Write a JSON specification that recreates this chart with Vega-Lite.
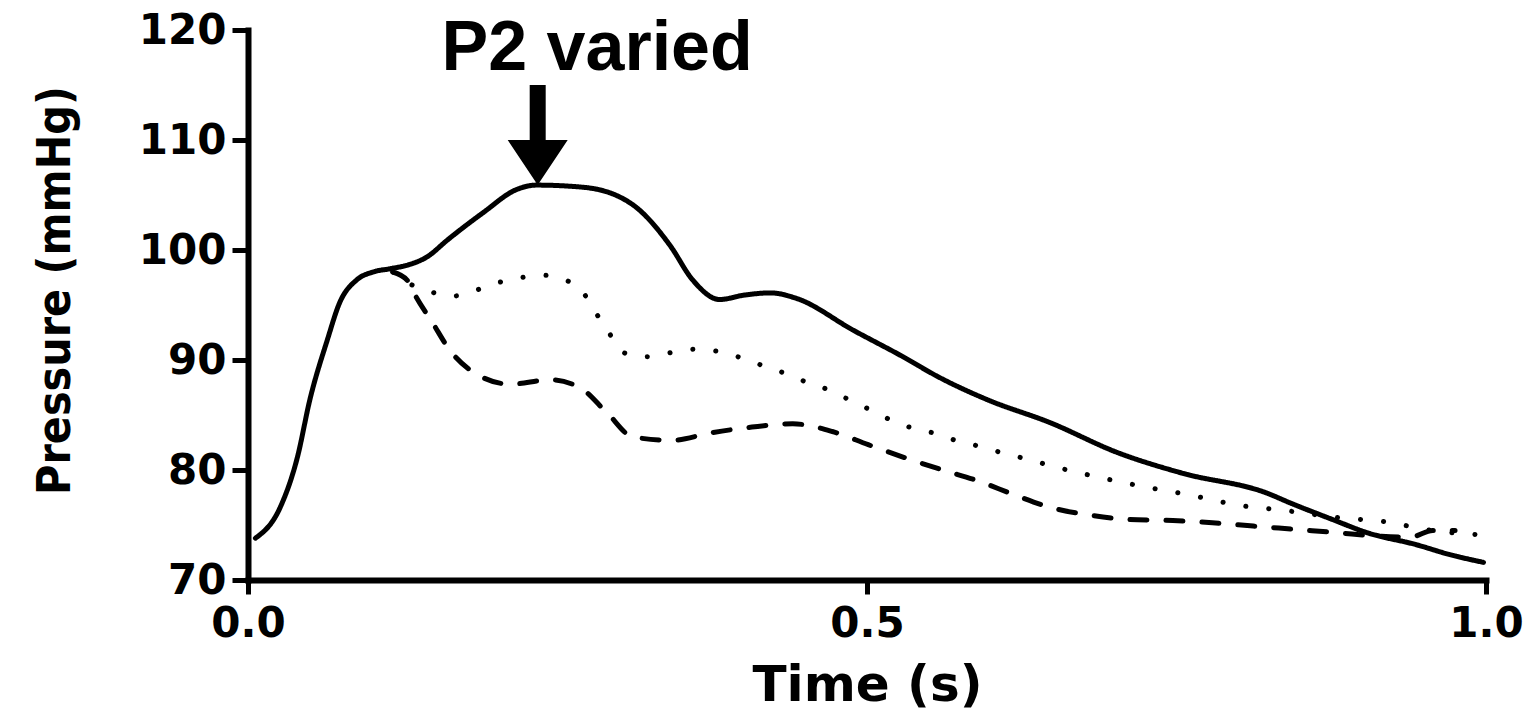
{
  "$schema": "https://vega.github.io/schema/vega-lite/v6.json",
  "autosize": "none",
  "width": 1238,
  "height": 550,
  "padding": {"left": 248, "top": 30, "right": 50, "bottom": 134},
  "background": "white",
  "config": {"view": {"stroke": null}, "axis": {"grid": false}},
  "datasets": {
    "curves": [
      {"series": "solid", "t": 0.006, "p": 73.8},
      {"series": "solid", "t": 0.026, "p": 76.6},
      {"series": "solid", "t": 0.040, "p": 81.2},
      {"series": "solid", "t": 0.050, "p": 86.4},
      {"series": "solid", "t": 0.064, "p": 91.8},
      {"series": "solid", "t": 0.074, "p": 95.2},
      {"series": "solid", "t": 0.088, "p": 97.3},
      {"series": "solid", "t": 0.101, "p": 98.0},
      {"series": "solid", "t": 0.115, "p": 98.3},
      {"series": "solid", "t": 0.128, "p": 98.6},
      {"series": "solid", "t": 0.145, "p": 99.4},
      {"series": "solid", "t": 0.161, "p": 100.9},
      {"series": "solid", "t": 0.190, "p": 103.4},
      {"series": "solid", "t": 0.217, "p": 105.5},
      {"series": "solid", "t": 0.233, "p": 105.9},
      {"series": "solid", "t": 0.271, "p": 105.7},
      {"series": "solid", "t": 0.311, "p": 104.1},
      {"series": "solid", "t": 0.341, "p": 100.4},
      {"series": "solid", "t": 0.359, "p": 97.3},
      {"series": "solid", "t": 0.381, "p": 95.5},
      {"series": "solid", "t": 0.401, "p": 95.9},
      {"series": "solid", "t": 0.422, "p": 96.1},
      {"series": "solid", "t": 0.443, "p": 95.6},
      {"series": "solid", "t": 0.489, "p": 92.7},
      {"series": "solid", "t": 0.529, "p": 90.3},
      {"series": "solid", "t": 0.557, "p": 88.5},
      {"series": "solid", "t": 0.597, "p": 86.4},
      {"series": "solid", "t": 0.648, "p": 84.3},
      {"series": "solid", "t": 0.702, "p": 81.6},
      {"series": "solid", "t": 0.755, "p": 79.7},
      {"series": "solid", "t": 0.823, "p": 77.9},
      {"series": "solid", "t": 0.842, "p": 77.0},
      {"series": "solid", "t": 0.876, "p": 75.5},
      {"series": "solid", "t": 0.904, "p": 74.3},
      {"series": "solid", "t": 0.944, "p": 73.2},
      {"series": "solid", "t": 0.971, "p": 72.3},
      {"series": "solid", "t": 0.998, "p": 71.6},
      {"series": "dotted", "t": 0.117, "p": 98.0},
      {"series": "dotted", "t": 0.125, "p": 97.3},
      {"series": "dotted", "t": 0.145, "p": 96.3},
      {"series": "dotted", "t": 0.165, "p": 95.8},
      {"series": "dotted", "t": 0.183, "p": 96.3},
      {"series": "dotted", "t": 0.201, "p": 97.0},
      {"series": "dotted", "t": 0.221, "p": 97.5},
      {"series": "dotted", "t": 0.239, "p": 97.7},
      {"series": "dotted", "t": 0.258, "p": 97.2},
      {"series": "dotted", "t": 0.271, "p": 96.1},
      {"series": "dotted", "t": 0.279, "p": 94.6},
      {"series": "dotted", "t": 0.287, "p": 93.3},
      {"series": "dotted", "t": 0.295, "p": 91.9},
      {"series": "dotted", "t": 0.305, "p": 90.6},
      {"series": "dotted", "t": 0.324, "p": 90.3},
      {"series": "dotted", "t": 0.343, "p": 90.7},
      {"series": "dotted", "t": 0.363, "p": 91.0},
      {"series": "dotted", "t": 0.383, "p": 90.7},
      {"series": "dotted", "t": 0.401, "p": 90.1},
      {"series": "dotted", "t": 0.418, "p": 89.4},
      {"series": "dotted", "t": 0.436, "p": 88.7},
      {"series": "dotted", "t": 0.453, "p": 87.9},
      {"series": "dotted", "t": 0.471, "p": 87.2},
      {"series": "dotted", "t": 0.487, "p": 86.3},
      {"series": "dotted", "t": 0.504, "p": 85.4},
      {"series": "dotted", "t": 0.520, "p": 84.5},
      {"series": "dotted", "t": 0.537, "p": 83.8},
      {"series": "dotted", "t": 0.556, "p": 83.3},
      {"series": "dotted", "t": 0.574, "p": 82.6},
      {"series": "dotted", "t": 0.593, "p": 82.1},
      {"series": "dotted", "t": 0.611, "p": 81.5},
      {"series": "dotted", "t": 0.629, "p": 81.0},
      {"series": "dotted", "t": 0.648, "p": 80.4},
      {"series": "dotted", "t": 0.685, "p": 79.4},
      {"series": "dotted", "t": 0.723, "p": 78.5},
      {"series": "dotted", "t": 0.762, "p": 77.7},
      {"series": "dotted", "t": 0.800, "p": 76.8},
      {"series": "dotted", "t": 0.839, "p": 76.3},
      {"series": "dotted", "t": 0.878, "p": 75.7},
      {"series": "dotted", "t": 0.918, "p": 75.3},
      {"series": "dotted", "t": 0.957, "p": 74.5},
      {"series": "dotted", "t": 0.997, "p": 74.1},
      {"series": "dashed", "t": 0.117, "p": 98.0},
      {"series": "dashed", "t": 0.129, "p": 97.2},
      {"series": "dashed", "t": 0.135, "p": 95.9},
      {"series": "dashed", "t": 0.149, "p": 93.4},
      {"series": "dashed", "t": 0.163, "p": 90.9},
      {"series": "dashed", "t": 0.182, "p": 88.9},
      {"series": "dashed", "t": 0.212, "p": 87.8},
      {"series": "dashed", "t": 0.244, "p": 88.2},
      {"series": "dashed", "t": 0.268, "p": 87.5},
      {"series": "dashed", "t": 0.290, "p": 85.2},
      {"series": "dashed", "t": 0.311, "p": 83.0},
      {"series": "dashed", "t": 0.342, "p": 82.7},
      {"series": "dashed", "t": 0.375, "p": 83.4},
      {"series": "dashed", "t": 0.407, "p": 83.9},
      {"series": "dashed", "t": 0.440, "p": 84.2},
      {"series": "dashed", "t": 0.472, "p": 83.5},
      {"series": "dashed", "t": 0.501, "p": 82.3},
      {"series": "dashed", "t": 0.531, "p": 81.1},
      {"series": "dashed", "t": 0.561, "p": 80.0},
      {"series": "dashed", "t": 0.590, "p": 79.0},
      {"series": "dashed", "t": 0.620, "p": 77.7},
      {"series": "dashed", "t": 0.648, "p": 76.6},
      {"series": "dashed", "t": 0.680, "p": 75.9},
      {"series": "dashed", "t": 0.712, "p": 75.5},
      {"series": "dashed", "t": 0.747, "p": 75.4},
      {"series": "dashed", "t": 0.779, "p": 75.2},
      {"series": "dashed", "t": 0.812, "p": 74.9},
      {"series": "dashed", "t": 0.846, "p": 74.6},
      {"series": "dashed", "t": 0.880, "p": 74.3},
      {"series": "dashed", "t": 0.912, "p": 74.0},
      {"series": "dashed", "t": 0.939, "p": 73.9},
      {"series": "dashed", "t": 0.957, "p": 74.5},
      {"series": "dashed", "t": 0.975, "p": 74.5}
    ],
    "label": [{"t": 0.282, "p": 116.4, "text": "P2 varied"}],
    "arrow": [{"t": 0.234, "p": 110.45}]
  },
  "layer": [
    {
      "data": {"name": "curves"},
      "mark": {"type": "line", "color": "black", "strokeWidth": 5, "strokeCap": "round", "interpolate": "monotone"},
      "encoding": {
        "x": {
          "field": "t", "type": "quantitative",
          "scale": {"domain": [0, 1], "nice": false, "zero": false},
          "axis": {
            "values": [0, 0.5, 1], "format": ".1f", "title": "Time (s)",
            "domainColor": "black", "domainWidth": 6, "domainCap": "square",
            "tickColor": "black", "tickWidth": 5, "tickSize": 14,
            "labelFont": "DejaVu Sans", "labelFontWeight": "bold", "labelFontSize": 42, "labelColor": "black", "labelPadding": 9,
            "labelFlush": false,
            "titleFont": "DejaVu Sans", "titleFontWeight": "bold", "titleFontSize": 50, "titleColor": "black", "titlePadding": 16
          }
        },
        "y": {
          "field": "p", "type": "quantitative",
          "scale": {"domain": [70, 120], "nice": false, "zero": false},
          "axis": {
            "values": [70, 80, 90, 100, 110, 120], "title": "Pressure (mmHg)",
            "domainColor": "black", "domainWidth": 6, "domainCap": "square",
            "tickColor": "black", "tickWidth": 5, "tickSize": 16,
            "labelFont": "DejaVu Sans", "labelFontWeight": "bold", "labelFontSize": 42, "labelColor": "black", "labelPadding": 6,
            "labelFlush": false,
            "titleFont": "DejaVu Sans Condensed, Liberation Sans", "titleFontWeight": "bold", "titleFontSize": 46, "titleColor": "black",
            "titleX": -193, "titleY": 260, "titleAngle": 270, "titleAlign": "center", "titleBaseline": "middle"
          }
        },
        "strokeDash": {
          "field": "series", "type": "nominal",
          "scale": {"domain": ["solid", "dotted", "dashed"], "range": [[1, 0], [0.1, 23], [17, 19]]},
          "legend": null
        }
      }
    },
    {
      "data": {"name": "arrow"},
      "mark": {"type": "point", "shape": "M-0.16,-1L0.16,-1L0.16,0.1L0.6,0.1L0,1L-0.6,0.1L-0.16,0.1Z", "filled": true, "color": "black", "opacity": 1, "size": 10000, "strokeWidth": 0},
      "encoding": {
        "x": {"field": "t", "type": "quantitative"},
        "y": {"field": "p", "type": "quantitative"}
      }
    },
    {
      "data": {"name": "label"},
      "mark": {"type": "text", "font": "Liberation Sans", "fontWeight": "bold", "fontSize": 70, "align": "center", "baseline": "alphabetic", "color": "black"},
      "encoding": {
        "x": {"field": "t", "type": "quantitative"},
        "y": {"field": "p", "type": "quantitative"},
        "text": {"field": "text"}
      }
    }
  ]
}
